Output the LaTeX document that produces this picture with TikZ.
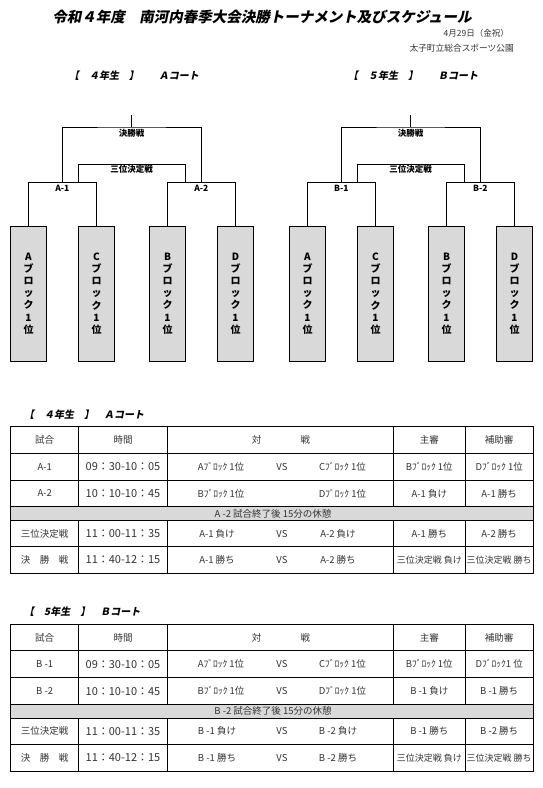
\documentclass[tikz,border=0pt]{standalone}
\usepackage{fontspec}
\setmainfont{Noto Sans CJK JP}
\newfontfamily\slfont[FakeSlant=0.2]{Noto Sans CJK JP}
\definecolor{cellgray}{HTML}{D9D9D9}
\definecolor{txt}{HTML}{333333}
\tikzset{
  bl/.style={line width=1pt},
  tl/.style={line width=0.8pt},
  blk/.style={draw,line width=1pt,fill=cellgray,minimum width=35.6pt,minimum height=135pt,inner sep=0pt,align=center,font=\bfseries\fontsize{10}{12.2}\selectfont},
  blab/.style={font=\bfseries\fontsize{8.5}{10}\selectfont,inner sep=0pt},
  cell/.style={font=\fontsize{9.5}{11}\selectfont,text=txt,inner sep=0pt},
  tcell/.style={font=\fontsize{11}{12}\selectfont,text=txt,inner sep=0pt},
  scell/.style={font=\fontsize{9}{11}\selectfont,text=txt,inner sep=0pt},
  head/.style={font=\slfont\bfseries\fontsize{10}{12}\selectfont,inner sep=0pt}
}
\newcommand\mybracket[4]{%
\begin{scope}[shift={(#1,0)}]
\node[head] (#4head) at (134,76) {#2};
\node[blk] (#4b1) at (28.5,293.5) {A\\ブ\\ロ\\ッ\\ク\\1\\位};
\node[blk] (#4b2) at (96.5,293.5) {C\\ブ\\ロ\\ッ\\ク\\1\\位};
\node[blk] (#4b3) at (167.5,293.5) {B\\ブ\\ロ\\ッ\\ク\\1\\位};
\node[blk] (#4b4) at (235.5,293.5) {D\\ブ\\ロ\\ッ\\ク\\1\\位};
\coordinate (#4m1) at (62.3,182.3);
\coordinate (#4m2) at (201.3,182.3);
\coordinate (#4s1) at (78.3,182.3);
\coordinate (#4s2) at (185.3,182.3);
\coordinate (#4fin) at (131.7,127);
\coordinate (#4semi) at (131.7,164.3);
\coordinate (#4top) at (131.7,115);
\draw[bl] (#4b1.north) |- (#4m1) -| (#4b2.north);
\draw[bl] (#4b3.north) |- (#4m2) -| (#4b4.north);
\draw[bl] (#4m1) |- (#4fin) -| (#4m2);
\draw[bl] (#4s1) |- (#4semi) -| (#4s2);
\draw[bl] (#4fin) -- (#4top);
\node[blab] (#4lfin) at (131.7,133.5) {決勝戦};
\node[blab] (#4lsemi) at (131.7,169.5) {三位決定戦};
\node[blab] (#4l1) at (62.3,188.5) {#3-1};
\node[blab] (#4l2) at (201.3,188.5) {#3-2};
\end{scope}}
\newcommand\mytab[8]{%
\begin{scope}[shift={(0,#2)}]
\node[head,anchor=west] (#1head) at (24,-12.5) {#3};
\fill[cellgray] (10.7,80) rectangle (533,94);
\draw[tl] (10.7,0) rectangle (533,146.6);
\foreach \yy in {26.5,53.5,80,94,120} {\draw[tl] (10.7,\yy) -- (533,\yy);}
\foreach \xx in {78.7,167.3,393.3,465.3} {\draw[tl] (\xx,0) -- (\xx,80); \draw[tl] (\xx,94) -- (\xx,146.6);}
\node[cell] (#1h1) at (44.7,13.3) {試合};
\node[cell] (#1h2) at (123,13.3) {時間};
\node[cell] (#1h3a) at (256.7,13.3) {対};
\node[cell] (#1h3b) at (305.3,13.3) {戦};
\node[cell] (#1h4) at (429.3,13.3) {主審};
\node[cell] (#1h5) at (499.2,13.3) {補助審};
\node[cell] (#1a1) at (44.7,40) {#4-1};
\node[tcell] (#1a2) at (123,40) {09：30-10：05};
\node[cell] (#1a3) at (221,40) {Aﾌﾞﾛｯｸ 1位};
\node[cell] (#1a4) at (282,40) {VS};
\node[cell] (#1a5) at (342.5,40) {Cﾌﾞﾛｯｸ 1位};
\node[cell] (#1a6) at (429.3,40) {Bﾌﾞﾛｯｸ 1位};
\node[cell] (#1a7) at (499.2,40) {#8};
\node[cell] (#1b1) at (44.7,66.8) {#4-2};
\node[tcell] (#1b2) at (123,66.8) {10：10-10：45};
\node[cell] (#1b3) at (221,66.8) {Bﾌﾞﾛｯｸ 1位};
\node[cell] (#1b4) at (282,66.8) {#7};
\node[cell] (#1b5) at (342.5,66.8) {Dﾌﾞﾛｯｸ 1位};
\node[cell] (#1b6) at (429.3,66.8) {#4-1 負け};
\node[cell] (#1b7) at (499.2,66.8) {#4-1 勝ち};
\node[cell] (#1brk) at (273,87) {#6 試合終了後 15分の休憩};
\node[cell] (#1c1) at (44.7,107) {三位決定戦};
\node[tcell] (#1c2) at (123,107) {11：00-11：35};
\node[cell] (#1c3) at (217,107) {#4-1 負け};
\node[cell] (#1c4) at (282,107) {VS};
\node[cell] (#1c5) at (338,107) {#4-2 負け};
\node[cell] (#1c6) at (429.3,107) {#4-1 勝ち};
\node[cell] (#1c7) at (499.2,107) {#4-2 勝ち};
\node[cell] (#1d1) at (44.7,133.3) {決　勝　戦};
\node[tcell] (#1d2) at (123,133.3) {11：40-12：15};
\node[cell] (#1d3) at (217,133.3) {#4-1 勝ち};
\node[cell] (#1d4) at (282,133.3) {VS};
\node[cell] (#1d5) at (338,133.3) {#4-2 勝ち};
\node[scell] (#1d6) at (429.3,133.3) {三位決定戦 負け};
\node[scell] (#1d7) at (499.2,133.3) {三位決定戦 勝ち};
\end{scope}}
\begin{document}
\begin{tikzpicture}[x=1pt,y=-1pt]
\useasboundingbox[fill=white] (0,0) rectangle (543,788);
\node[font=\slfont\bfseries\fontsize{14.5}{16}\selectfont,inner sep=0pt] (title) at (262,17) {令和４年度　南河内春季大会決勝トーナメント及びスケジュール};
\node[anchor=east,font=\fontsize{8.5}{10}\selectfont,text=txt,inner sep=0pt] (date) at (509,33) {4月29日（金祝）};
\node[anchor=east,font=\fontsize{8.7}{10}\selectfont,text=txt,inner sep=0pt] (venue) at (514,48) {太子町立総合スポーツ公園};
\mybracket{0}{【　４年生　】　　Ａコート}{A}{L}
\mybracket{279}{【　５年生　】　　Ｂコート}{B}{R}
\mytab{T}{426.7}{【　４年生　】　Ａコート}{A}{B}{A -2}{}{Dﾌﾞﾛｯｸ 1位}
\mytab{U}{624.3}{【　5年生　】　Ｂコート}{B }{B}{B -2}{VS}{Dﾌﾞﾛｯｸ1 位}
\end{tikzpicture}
\end{document}
